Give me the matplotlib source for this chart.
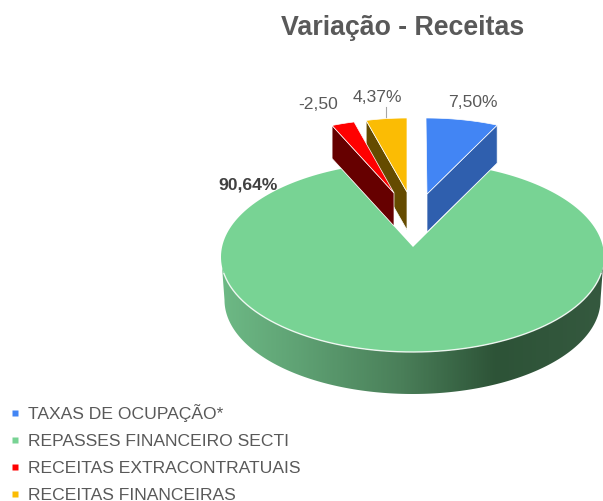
import numpy as np
import matplotlib
matplotlib.use("Agg")
import matplotlib.pyplot as plt
from matplotlib.patches import Polygon
from matplotlib.lines import Line2D
from matplotlib.colors import LinearSegmentedColormap

plt.rcParams['font.family'] = ['Liberation Sans', 'DejaVu Sans']

# data
categories = ["TAXAS DE OCUPAÇÃO*", "REPASSES FINANCEIRO SECTI",
              "RECEITAS EXTRACONTRATUAIS", "RECEITAS FINANCEIRAS"]
values = [7.50, 90.64, 2.50, 4.37]
value_labels = ["7,50%", "90,64%", "-2,50", "4,37%"]

# style / layout (pixel space of the figure)
top_colors = ["#4285F4", "#78D394", "#FF0000", "#FBBC04"]
side_colors = ["#2F5FAE", None, "#660000", "#654B00"]
# centre x, centre y, radius x, radius y, apex x, apex y, thickness
geom = [
    (426.0, 190.0, 164, 72, 427, 194, 38),
    (412.5, 257.0, 191.5, 95, 413, 247, 41),
    (394.4, 191.5, 156, 72, 394, 193, 33),
    (407.0, 190.0, 158, 72, 407, 192, 38),
]
label_pos = [(473, 102, 'normal'), (248, 185, 'bold'), (318, 104, 'normal'), (377, 97, 'normal')]
green_overlap = 1.7  # degrees the big slice runs on under its exploded neighbours

fig = plt.figure(figsize=(6.03, 5.01), dpi=100)
ax = fig.add_axes([0, 0, 1, 1])
ax.set_xlim(0, 603)
ax.set_ylim(501, 0)
ax.axis('off')

shares = np.abs(values) / np.sum(np.abs(values)) * 360.0
ends = np.cumsum(shares)
starts = ends - shares


def rim(g, a0, a1, n=200):
    t = np.radians(np.linspace(a0, a1, n))
    return np.column_stack([g[0] + g[2] * np.sin(t), g[1] - g[3] * np.cos(t)])


# green side band with a horizontal gradient, clipped to the band
g = geom[1]
front = rim(g, 96, 264, 300)
lower_t = np.radians(np.linspace(270, 90, 300))
lower = np.column_stack([g[0] + (g[2] - 3.5) * np.sin(lower_t),
                         g[1] + g[6] + 2 - (g[3] - 1) * np.cos(lower_t)])
band = Polygon(np.vstack([front, lower]), closed=True, transform=ax.transData,
               facecolor='none', edgecolor='none')
ax.add_patch(band)
cmap = LinearSegmentedColormap.from_list(
    "side", [(0, "#6DB985"), (0.2, "#5FA274"), (0.47, "#4A7F59"),
             (0.72, "#2D5337"), (1, "#35593F")])
im = ax.imshow(np.linspace(0, 1, 400)[None, :], cmap=cmap, aspect='auto',
               extent=(221, 604, 400, 250), zorder=1)
im.set_clip_path(band)
ax.set_xlim(0, 603)
ax.set_ylim(501, 0)

# green top
pts = np.vstack([[g[4], g[5]], rim(g, starts[1] - green_overlap, ends[1] + green_overlap)])
ax.add_patch(Polygon(pts, closed=True, facecolor=top_colors[1], edgecolor='none', zorder=2))
ax.plot(*rim(g, 100, 260).T, color='white', lw=1.0, alpha=0.85, zorder=2.5)

# exploded slices: orange, red, blue
for z, (i, edge_angle) in enumerate([(3, starts[3]), (2, starts[2]), (0, ends[0])]):
    g = geom[i]
    apex = np.array([g[4], g[5]], float)
    p = rim(g, edge_angle, edge_angle, 1)[0]
    down = np.array([0, g[6]], float)
    zz = 3 + z
    ax.add_patch(Polygon([p, apex, apex + down, p + down], closed=True,
                         facecolor=side_colors[i], edgecolor='white', lw=0.5, zorder=zz))
    pts = np.vstack([apex, rim(g, starts[i], ends[i], 40)])
    ax.add_patch(Polygon(pts, closed=True, facecolor=top_colors[i],
                         edgecolor='white', lw=0.5, zorder=zz + 0.5))

# leader line for the orange label
ax.plot([386, 386], [107, 119], color='#A6A6A6', lw=0.8, zorder=3)

# labels
for txt, (x, y, w) in zip(value_labels, label_pos):
    ax.text(x, y, txt, ha='center', va='center', fontsize=12.6, fontweight=w,
            color='#404040' if w == 'bold' else '#595959', zorder=10)

ax.text(403, 28, "Variação - Receitas", ha='center', va='center', fontsize=19.3,
        fontweight='bold', color='#595959')

handles = [Line2D([], [], linestyle='none', marker='s', markersize=4.5,
                  markerfacecolor=c, markeredgecolor='none') for c in top_colors]
leg = ax.legend(handles, categories, loc='upper left', bbox_to_anchor=(6.25, 404.5),
                bbox_transform=ax.transData, frameon=False, fontsize=12.6,
                labelcolor='#595959', handletextpad=0.24, handlelength=1.0,
                labelspacing=0.67, borderpad=0, borderaxespad=0)

fig.savefig("out.png", dpi=100)
